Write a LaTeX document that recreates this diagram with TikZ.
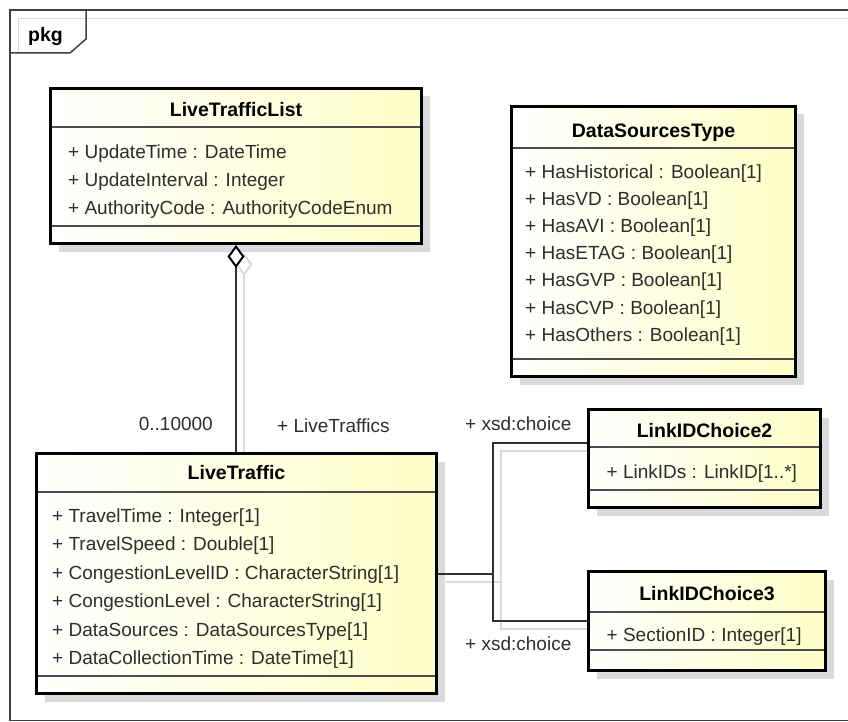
\documentclass[tikz,border=0pt]{standalone}
\usepackage{fontspec}
\setmainfont{Liberation Sans}
\usetikzlibrary{positioning,shadows,arrows.meta}

\definecolor{umlyellow}{RGB}{255,255,200}
\definecolor{umltext}{RGB}{45,45,45}
\definecolor{umlgray}{RGB}{218,218,218}
\definecolor{umlline}{RGB}{50,50,50}

\pgfdeclarelayer{back}
\pgfsetlayers{back,main}

\begin{document}
\begin{tikzpicture}[x=1pt, y=-1pt,
    classbox/.style={draw=black, line width=3pt, inner sep=0pt, left color=white, right color=umlyellow,
      drop shadow={shadow xshift=8pt, shadow yshift=-8pt, fill=umlgray, opacity=1}},
    sep/.style={draw=black!70, line width=1.3pt, shorten <=3pt, shorten >=3pt},
    classname/.style={anchor=base, inner sep=0pt, font=\fontsize{19.5}{23}\selectfont\bfseries},
    attrs/.style={anchor=base west, align=left, inner sep=0pt, text=umltext, font=\fontsize{19}{#1}\selectfont},
    lbl/.style={inner sep=0pt, text=umltext, font=\fontsize{19}{23}\selectfont},
    frame/.style={draw=black!75, line width=1.5pt},
    frameshadow/.style={draw=umlgray, line width=1.5pt},
    assoc/.style={draw=umlline, line width=2pt},
    assocshadow/.style={draw=umlgray, line width=2pt, transform canvas={xshift=8pt, yshift=-8pt}}]
    \useasboundingbox (0,0) rectangle (848,722);
    \clip (0,0) rectangle (848,722);

    %Frame
    \draw[frameshadow] (850,18.5) -- (18.5,18.5) -- (18.5,53);
    \draw[frame] (850,10) -- (10,10) -- (10,720.5) -- (850,720.5);
    \draw[frame] (10,53) -- (70,53) -- (86,39) -- (86,10);
    \node[anchor=base west, inner sep=0pt, font=\fontsize{19.5}{23}\selectfont\bfseries] (pkg) at (28,41.5) {pkg};

    %Classes
    \node[classbox, minimum width=371pt, minimum height=155pt] (list) at (236,166) {};
    \node[classbox, minimum width=284pt, minimum height=270pt] (sources) at (653.5,241.5) {};
    \node[classbox, minimum width=400pt, minimum height=240pt] (traffic) at (236.5,573.5) {};
    \node[classbox, minimum width=232pt, minimum height=98pt] (choice2) at (704.5,458.5) {};
    \node[classbox, minimum width=237pt, minimum height=99pt] (choice3) at (707,621) {};

    %Compartments
    \draw[sep] (list.west |- 0,127) -- (list.east |- 0,127);
    \draw[sep] (list.west |- 0,226) -- (list.east |- 0,226);
    \draw[sep] (sources.west |- 0,148) -- (sources.east |- 0,148);
    \draw[sep] (sources.west |- 0,359) -- (sources.east |- 0,359);
    \draw[sep] (traffic.west |- 0,492) -- (traffic.east |- 0,492);
    \draw[sep] (traffic.west |- 0,676) -- (traffic.east |- 0,676);
    \draw[sep] (choice2.west |- 0,447) -- (choice2.east |- 0,447);
    \draw[sep] (choice2.west |- 0,490) -- (choice2.east |- 0,490);
    \draw[sep] (choice3.west |- 0,612) -- (choice3.east |- 0,612);
    \draw[sep] (choice3.west |- 0,650) -- (choice3.east |- 0,650);

    %Texts (base = last line)
    \node[classname] (listname) at (236,117) {LiveTrafficList};
    \node[attrs=27.8] (listattrs) at (68,214.3) {+ UpdateTime : DateTime\\
      + UpdateInterval : Integer\\
      + AuthorityCode : AuthorityCodeEnum};
    \node[classname] (sourcesname) at (653.5,137.7) {DataSourcesType};
    \node[attrs=27.2] (sourcesattrs) at (525,341.2) {+ HasHistorical : Boolean[1]\\
      + HasVD : Boolean[1]\\
      + HasAVI : Boolean[1]\\
      + HasETAG : Boolean[1]\\
      + HasGVP : Boolean[1]\\
      + HasCVP : Boolean[1]\\
      + HasOthers : Boolean[1]};
    \node[classname] (trafficname) at (236.5,479.7) {LiveTraffic};
    \node[attrs=28.5] (trafficattrs) at (52,664.5) {+ TravelTime : Integer[1]\\
      + TravelSpeed : Double[1]\\
      + CongestionLevelID : CharacterString[1]\\
      + CongestionLevel : CharacterString[1]\\
      + DataSources : DataSourcesType[1]\\
      + DataCollectionTime : DateTime[1]};
    \node[classname] (choice2name) at (704.5,437) {LinkIDChoice2};
    \node[attrs=27] (choice2attrs) at (606.5,478) {+ LinkIDs : LinkID[1..*]};
    \node[classname] (choice3name) at (707,600.3) {LinkIDChoice3};
    \node[attrs=27] (choice3attrs) at (606.5,641.3) {+ SectionID : Integer[1]};

    %Connectors
    \coordinate (fork) at (493,573.5);
    \begin{pgfonlayer}{back}
      \draw[assocshadow, -{Diamond[length=23pt, width=17pt, fill=white]}] (traffic.north -| list.south) -- (list.south);
      \draw[assocshadow] (traffic.east) -- (fork);
      \draw[assocshadow] ([yshift=15.5pt]choice2.west) -| (fork) |- (choice3.west);
    \end{pgfonlayer}
    \draw[assoc, -{Diamond[length=23pt, width=17pt, color=black, fill=white]}] (traffic.north -| list.south) -- (list.south);
    \draw[assoc] (traffic.east) -- (fork);
    \draw[assoc] ([yshift=15.5pt]choice2.west) -| (fork) |- (choice3.west);

    %Labels
    \node[lbl, anchor=base east] (mult) at (213,430) {0..10000};
    \node[lbl, anchor=base west] (role) at (277,432) {+ LiveTraffics};
    \node[lbl, anchor=base west] (choice2lbl) at (465,430) {+ xsd:choice};
    \node[lbl, anchor=base west] (choice3lbl) at (465,650) {+ xsd:choice};
\end{tikzpicture}
\end{document}
